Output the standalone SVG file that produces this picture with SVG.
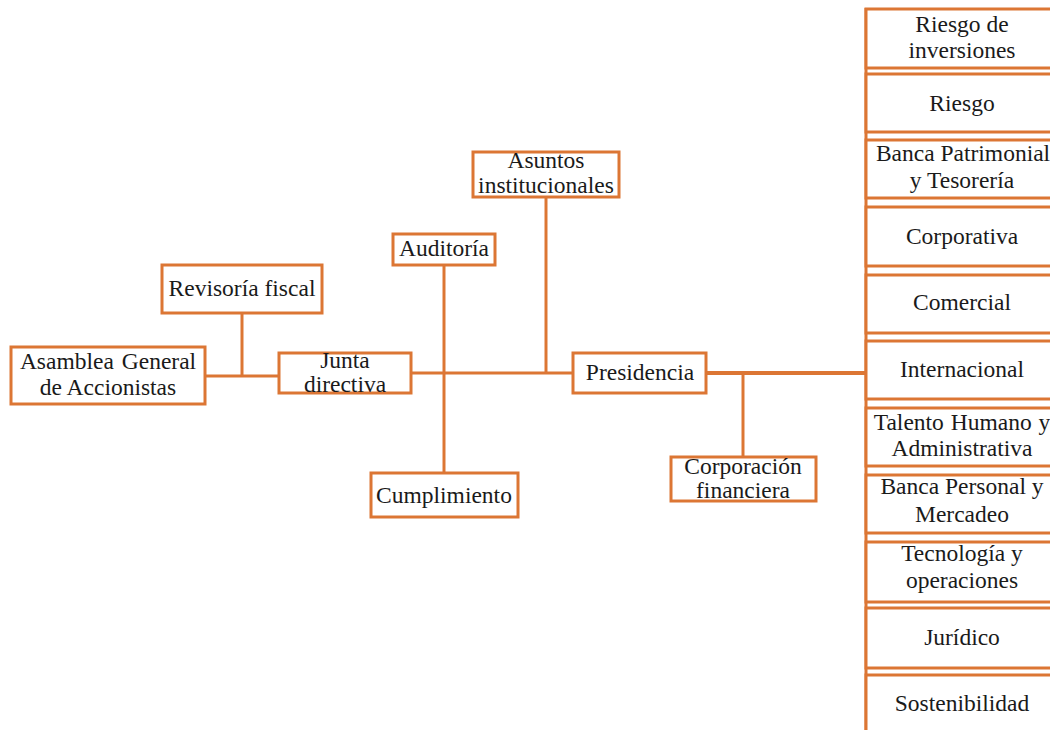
<svg xmlns="http://www.w3.org/2000/svg" width="1050" height="730" viewBox="0 0 1050 730">
<style>
rect.n{fill:#fff;stroke:#DC7634;stroke-width:3}
text{font-family:"Liberation Serif","Times New Roman",serif;font-size:23.5px;fill:#1a1a1a;text-anchor:middle}
.c line{stroke:#DC7634;stroke-width:3}
</style>
<rect width="1050" height="730" fill="#fff"/>
<g class="c" id="connectors">
<line x1="205" y1="376" x2="279" y2="376"/>
<line x1="242" y1="313" x2="242" y2="376"/>
<line x1="411" y1="373" x2="573" y2="373"/>
<line x1="444" y1="265" x2="444" y2="473"/>
<line x1="546" y1="197" x2="546" y2="373"/>
<line x1="706" y1="373" x2="866" y2="373" style="stroke-width:4"/>
<line x1="743" y1="373" x2="743" y2="457"/>
<line x1="866" y1="8" x2="866" y2="730"/>
</g>
<g id="asamblea"><rect class="n" x="11" y="347" width="194" height="57"/><text x="108" y="369" word-spacing="2">Asamblea General</text><text x="108" y="395">de Accionistas</text></g>
<g id="revisoria"><rect class="n" x="162" y="265" width="160" height="48"/><text x="242" y="296">Revisoría fiscal</text></g>
<g id="junta"><rect class="n" x="279" y="353" width="132" height="40"/><text x="345" y="368">Junta</text><text x="345" y="392">directiva</text></g>
<g id="asuntos"><rect class="n" x="473" y="152" width="146" height="45"/><text x="546" y="168">Asuntos</text><text x="546" y="193">institucionales</text></g>
<g id="auditoria"><rect class="n" x="393" y="234" width="102" height="31"/><text x="444" y="256">Auditoría</text></g>
<g id="cumplimiento"><rect class="n" x="371" y="473" width="147" height="44"/><text x="444" y="503">Cumplimiento</text></g>
<g id="presidencia"><rect class="n" x="573" y="353" width="133" height="40"/><text x="640" y="380">Presidencia</text></g>
<g id="corporacion"><rect class="n" x="671" y="457" width="145" height="44"/><text x="743" y="474">Corporación</text><text x="743" y="498">financiera</text></g>
<g id="riesgo-inversiones"><rect class="n" x="866" y="9" width="200" height="59"/><text x="962" y="32">Riesgo de</text><text x="962" y="58">inversiones</text></g>
<g id="riesgo"><rect class="n" x="866" y="74" width="200" height="58"/><text x="962" y="111">Riesgo</text></g>
<g id="banca-patrimonial"><rect class="n" x="866" y="140" width="200" height="58"/><text x="963" y="161">Banca Patrimonial</text><text x="962" y="188">y Tesorería</text></g>
<g id="corporativa"><rect class="n" x="866" y="207" width="200" height="59"/><text x="962" y="244">Corporativa</text></g>
<g id="comercial"><rect class="n" x="866" y="275" width="200" height="58"/><text x="962" y="310">Comercial</text></g>
<g id="internacional"><rect class="n" x="866" y="341" width="200" height="58"/><text x="962" y="377">Internacional</text></g>
<g id="talento"><rect class="n" x="866" y="408" width="200" height="58"/><text x="962" y="430" word-spacing="1">Talento Humano y</text><text x="962" y="456">Administrativa</text></g>
<g id="banca-personal"><rect class="n" x="866" y="475" width="200" height="58"/><text x="962" y="494">Banca Personal y</text><text x="962" y="522">Mercadeo</text></g>
<g id="tecnologia"><rect class="n" x="866" y="542" width="200" height="60"/><text x="962" y="561">Tecnología y</text><text x="962" y="588">operaciones</text></g>
<g id="juridico"><rect class="n" x="866" y="608" width="200" height="60"/><text x="962" y="645">Jurídico</text></g>
<g id="sostenibilidad"><rect class="n" x="866" y="675" width="200" height="60"/><text x="962" y="711">Sostenibilidad</text></g>
</svg>
